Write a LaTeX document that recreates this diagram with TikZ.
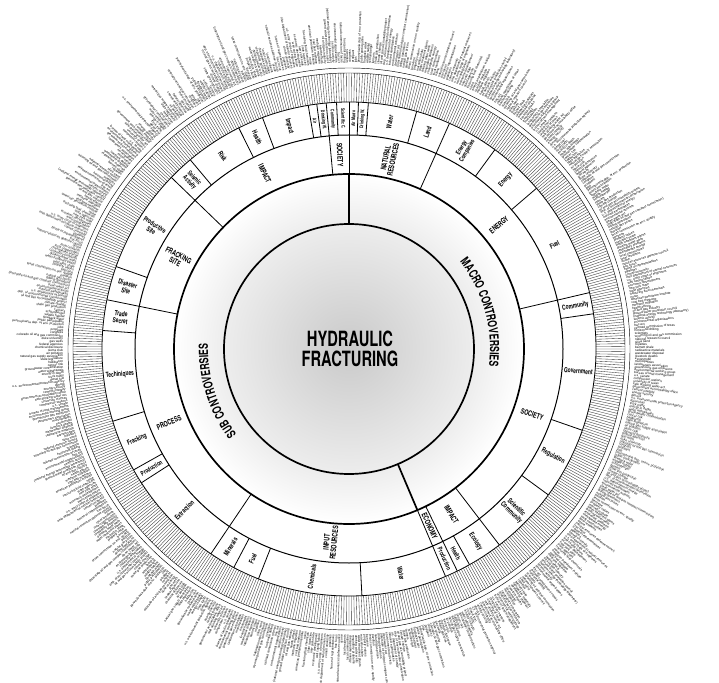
\documentclass[tikz,border=0pt]{standalone}
\usepackage{fontspec}
\setmainfont{TeX Gyre Heros}
\newfontfamily\cnd{TeX Gyre Heros}[FakeStretch=0.7]
\newfontfamily\frf{Liberation Sans}
\usetikzlibrary{decorations.text}
\pgfdeclareradialshading{hubshade}{\pgfpoint{0bp}{0bp}}{color(0bp)=(black!21); color(18bp)=(black!7); color(25bp)=(white); color(50bp)=(white)}
\newcommand\fringestr[1]{\ifcase#1 public participation\or state agencies\or u.s. environmental protection agency\or texas commission on env. quality\or national research council\or congress\or u.s. army corps of engineers\or government accountability office\or (interstate oil and gas compact commission)\or railroad commission of texas\or federal agencies\or house of representatives\or u.s. senate\or u.s. department of energy\or (national energy technology laboratory)\or natural gas supply association\or local residents\or landowners association\or shale gas production\or methane migration\or groundwater contamination\or drinking water wells\or wastewater disposal\or flowback water\or fracturing fluid chemicals\or diesel fuel\or benzene\or silica sand\or proppant\or well casing failure\or cement integrity\or drilling operations\or horizontal drilling\or gas wells\or pipelines\or compressor stations\or induced earthquakes\or seismic activity\or air pollution\or ozone\or greenhouse gas emissions\or climate change\or health effects\or cancer risk\or respiratory problems\or livestock deaths\or wildlife habitat\or noise\or truck traffic\or property values\or royalties\or jobs\or economic development\or energy security\or natural gas prices\or scientists\or duke university\or cornell university\or university of texas\or environmental activists\or environmental organizations\or sierra club\or natural resources defense council\or environmental working group\or oil and gas accountability project\or oil and gas industry\or halliburton\or chesapeake energy\or exxonmobil\or schlumberger\or american petroleum institute\or energy in depth\or marcellus shale\or barnett shale\or pennsylvania dep. of env. protection\or new york state\or dimock\or pavillion\or wyoming oil and gas commission\or colorado oil and gas commission\or ohio department of natural resources\or safe drinking water act\or clean water act\or frac act\or chemical disclosure\or frac focus\or bureau of land management\or dep. of environmental conservation\or ground water protection council\or state legislature\or local communities\or municipalities\or farmers\or coal bed methane\or water withdrawals\or water treatment plants\or radioactive materials\fi}
\tikzset{
  thickline/.style={line width=1.7pt},
  ringtwo/.style={line width=1pt},
  ringfour/.style={line width=0.8pt},
  divider/.style={line width=0.8pt},
  hatch/.style={line width=0.35pt, black!80},
  thinring/.style={line width=0.45pt},
  lab/.style={align=center, inner sep=0pt},
  fr/.style={inner sep=0pt, text=black, font=\frf\fontsize{3.2}{3.2}\selectfont}
}
\begin{document}
\begin{tikzpicture}[x=1pt,y=1pt]
\useasboundingbox (-349,-333) rectangle (370,349);
\fill[white] (-349,-333) rectangle (370,349);
\shade[shading=hubshade] (0,0) circle[radius=175];

% ring 3 dividers
\foreach \ang in {90,87.8,85.5,74.1,66,53.8,40.6,13.2,8.2,-19.2,-36.2,-52.5,-60.8,-64,-67,-87,-111.5,-117.8,-124,-147.2,-150.7,-163,175.7,168.5,160.5,136,130,116.5,110.5,99.5,97.5,95.3,92.9}
  \draw[divider] (\ang:214) -- (\ang:247);
% ring 2 dividers
\foreach \ang in {90,66,13.2,-52.5,-64,-67,236,168.5,136,95.3}
  \draw[divider] (\ang:175) -- (\ang:214);
% ring 1 dividers
\draw[thickline] (90:125) -- (90:175);
\draw[thickline] (-67:125) -- (-67:175);
% circles
\draw[thickline] (0,0) circle[radius=125];
\draw[thickline] (0,0) circle[radius=175];
\draw[ringtwo] (0,0) circle[radius=214];
\draw[ringfour] (0,0) circle[radius=247];
\draw[thinring] (0,0) circle[radius=276];
\draw[thinring] (0,0) circle[radius=281];
% hatch ring
\draw[hatch] \foreach \i in {0,...,639}{ ({90-\i*0.5625}:247) -- ({90-\i*0.5625}:276) };

% ring 3 labels
\foreach \sa/\sb/\lbl/\fs [count=\n] in {
  87.8/90/{Air Macro}/5, 85.5/87.8/{Drinking W.}/5, 74.1/85.5/Water/7, 66/74.1/Land/7,
  53.8/66/{Energy\\Companies}/6.5, 40.6/53.8/Energy/7, 13.2/40.6/Fuel/7, 8.2/13.2/Community/7,
  -19.2/8.2/Government/7, -36.2/-19.2/Regulation/7, -52.5/-36.2/{Scientific\\Community}/7,
  -60.8/-52.5/Ecology/7, -64/-60.8/Health/6.5, -67/-64/Production/6.5,
  273/293/Water/7, 248.5/273/Chemicals/7, 242.2/248.5/Fuel/7, 236/242.2/Minerals/7,
  212.8/236/Extraction/7, 209.3/212.8/Production/6.5, 197/209.3/Fracking/7,
  175.7/197/Techiniques/7, 168.5/175.7/{Trade\\Secret}/7, 160.5/168.5/{Disaster\\Site}/7,
  136/160.5/{Productive\\Site}/7, 130/136/{Seismic\\Activity}/6.5, 116.5/130/Risk/7,
  110.5/116.5/Health/7, 99.5/110.5/Impact/7, 97.5/99.5/Air/5, 95.3/97.5/{Drinking W.}/5,
  92.9/95.3/Community/5, 90/92.9/{Scientific C.}/5}{
  \pgfmathsetmacro\mang{(\sa+\sb)/2}
  \pgfmathsetmacro\cval{cos(\mang)}
  \pgfmathsetmacro\rot{\cval<0 ? \mang+180 : \mang}
  \node[lab, font=\cnd\bfseries\fontsize{\fs}{\fs}\selectfont, rotate=\rot] (sc\n) at (\mang:230.5) {\lbl};
}
% ring 2 labels
\foreach \sa/\sb/\lbl [count=\n] in {
  66/90/{NATURAL\\RESOURCES}, 13.2/66/ENERGY, -52.5/13.2/SOCIETY, -64/-52.5/IMPACT,
  -67/-64/ECONOMY, 236/293/{INPUT\\RESOURCES}, 168.5/236/PROCESS, 136/168.5/{FRACKING\\SITE},
  95.3/136/IMPACT, 90/95.3/SOCIETY}{
  \pgfmathsetmacro\mang{(\sa+\sb)/2}
  \pgfmathsetmacro\cval{cos(\mang)}
  \pgfmathsetmacro\rot{\cval<0 ? \mang+180 : \mang}
  \node[lab, font=\cnd\bfseries\fontsize{7.6}{7.6}\selectfont, rotate=\rot] (gr\n) at (\mang:194.5) {\lbl};
}
% ring 1 curved labels
\path[decorate, decoration={text along path, text align=center,
  text={|\cnd\bfseries\fontsize{12.5}{12.5}\selectfont|MACRO CONTROVERSIES}}]
  (45.5:141) arc[start angle=45.5, end angle=-14.5, radius=141];
\path[decorate, decoration={text along path, text align=center,
  text={|\cnd\bfseries\fontsize{12.5}{12.5}\selectfont|SUB CONTROVERSIES}}]
  (227.5:141) arc[start angle=227.5, end angle=167.5, radius=141];
% centre
\node[lab, font=\cnd\bfseries\fontsize{21}{20.5}\selectfont] (hub) at (1,0) {HYDRAULIC\\FRACTURING};

% fringe labels
\foreach \i in {0,...,639}{
  \pgfmathsetmacro\ang{90-(\i+0.5)*0.5625}
  \pgfmathtruncatemacro\k{mod(\i*23+5,97)}
  \pgfmathsetmacro\cval{cos(\ang)}
  \ifdim\cval pt<0pt
    \node[fr, anchor=east, rotate=\ang+180] (f\i) at (\ang:286) {\fringestr{\k}};
  \else
    \node[fr, anchor=west, rotate=\ang] (f\i) at (\ang:286) {\fringestr{\k}};
  \fi
}
\end{tikzpicture}
\end{document}
